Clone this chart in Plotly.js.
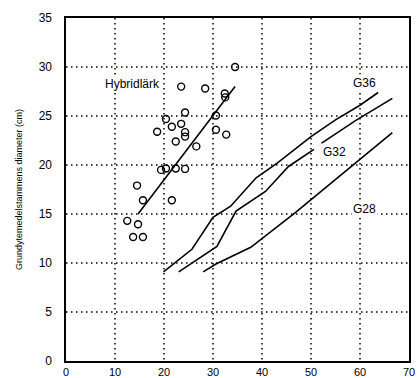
<!DOCTYPE html>
<html><head><meta charset="utf-8">
<script src="https://cdn.plot.ly/plotly-3.0.1.min.js"></script>
<style>html,body{margin:0;padding:0;background:#fff}#c{width:419px;height:378px}
.js-plotly-plot .plotly .gridlayer path{shape-rendering:auto !important;}
</style>
</head><body><div id="c"></div>
<script>
// Hybridlärk observations
const hybX = [34.5,23.5,28.4,32.4,32.5,24.3,30.6,20.4,23.5,21.6,18.6,24.3,24.3,30.6,32.7,22.4,26.6,19.4,20.4,22.4,24.3,14.5,15.7,21.6,12.5,14.7,13.7,15.7];
const hybY = [30.0,28.0,27.8,27.3,26.9,25.35,25.05,24.7,24.2,23.9,23.4,23.35,22.9,23.6,23.1,22.4,21.9,19.5,19.65,19.65,19.6,17.9,16.4,16.4,14.3,13.95,12.65,12.65];
// regression line
const fitX = [14.7, 34.5];
const fitY = [15.0, 28.0];
// site index curves
const g36X = [19.9,25.7,30.0,33.6,38.8,43.1,50.0,55.0,60.0,63.7];
const g36Y = [9.1,11.4,14.65,15.8,18.7,20.2,22.9,24.6,26.1,27.4];
const g32X = [23.0,30.8,34.7,40.7,45.4,50.6,null,52.1,59.0,66.6];
const g32Y = [9.1,11.7,15.3,17.3,19.85,21.6,null,22.2,24.5,26.8];
const g28X = [28.0,30.6,37.7,46.8,66.6];
const g28Y = [9.1,9.9,11.6,15.15,23.3];
const xTicks = [0,10,20,30,40,50,60,70];
const yTicks = [0,5,10,15,20,25,30,35];
const labels = [
  {text:'Hybridlärk', x:13.6, y:28.3},
  {text:'G36', x:60.9, y:28.4},
  {text:'G32', x:54.8, y:21.3},
  {text:'G28', x:61.0, y:15.5}
];

const lineStyle = {color:'#000', width:1.6};
const traces = [
  {x:hybX, y:hybY, mode:'markers', type:'scatter', marker:{symbol:'circle-open', size:7, color:'#000', line:{width:1.4, color:'#000'}}},
  {x:fitX, y:fitY, mode:'lines', type:'scatter', line:lineStyle},
  {x:g36X, y:g36Y, mode:'lines', type:'scatter', line:lineStyle},
  {x:g32X, y:g32Y, mode:'lines', type:'scatter', line:lineStyle, connectgaps:false},
  {x:g28X, y:g28Y, mode:'lines', type:'scatter', line:lineStyle}
];
const axCommon = {
  showgrid:true, gridcolor:'#000000', griddash:'1.5px,3.5px', gridwidth:1.5,
  zeroline:false, showline:true, mirror:true, linecolor:'#000', linewidth:1.6,
  ticks:'outside', ticklen:6, tickcolor:'rgba(0,0,0,0)',
  tickfont:{family:'Liberation Sans, Arial, sans-serif', size:12, color:'#000'}
};
const layout = {
  width:419, height:378,
  margin:{l:66, r:10, t:18, b:17},
  paper_bgcolor:'#fff', plot_bgcolor:'#fff',
  showlegend:false,
  font:{family:'Liberation Sans, Arial, sans-serif', color:'#000'},
  xaxis:Object.assign({}, axCommon, {range:[0,70], tickvals:xTicks, ticktext:xTicks.map(String), ticks:'', ticklen:0,
    tickfont:{family:'Liberation Sans, Arial, sans-serif', size:11, color:'#000'}}),
  yaxis:Object.assign({}, axCommon, {range:[0,35], tickvals:yTicks, ticktext:yTicks.map(String), ticklen:10,
    title:{text:'Grundytemedelstammens diameter (cm)', font:{size:9, color:'#000'}, standoff:14}}),
  annotations: labels.map(l => ({text:l.text, x:l.x, y:l.y, xref:'x', yref:'y', showarrow:false,
    font:{size:12, color:'#000', family:'Liberation Sans, Arial, sans-serif'}, bgcolor:'#fff'}))
};
Plotly.newPlot('c', traces, layout, {displayModeBar:false, staticPlot:true});
</script></body></html>
